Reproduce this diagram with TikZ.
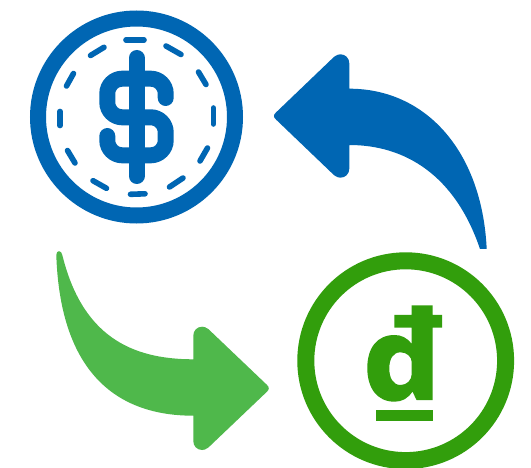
\documentclass[tikz,border=0pt]{standalone}
\definecolor{coinblue}{HTML}{0066B3}
\definecolor{coingreen}{HTML}{329E0C}
\definecolor{arrowgreen}{HTML}{4FB84B}
\tikzset{dashmark/.style={draw=coinblue,line width=5.6pt,line cap=round}}
\begin{document}
\begin{tikzpicture}[x=1pt,y=-1pt]
\useasboundingbox (0,0) rectangle (531,468);
\fill[white] (0,0) rectangle (531,468);
% blue coin
\draw[coinblue,line width=16pt] (136.5,117) circle[radius=98.5];
\foreach \a/\b/\c/\d in {126/40/144/40,
  166/46/181/54.5, 198.5/72/206/84.5, 213.3/108/213.3/124,
  207.5/148/200/161, 183/178/169.5/187, 145/193.8/130.5/194.3,
  106.5/188.3/93/180.7, 75/163/67.5/150.5, 60/125.5/60/111.5,
  66.5/86/73.5/73.5, 90.5/55.5/104/47.3}
  \draw[dashmark] (\a,\b) -- (\c,\d);
% dollar sign
\draw[coinblue,line width=16pt,line cap=round,rounded corners=15pt]
  (165.7,98) -- (165.7,78.7) -- (107.3,78.7) -- (107.3,117.3) -- (165.7,117.3)
  -- (165.7,155.3) -- (107.3,155.3) -- (107.3,136);
\draw[coinblue,line width=16pt,line cap=round] (136.7,58) -- (136.7,176);
% blue arrow
\fill[coinblue] (349.3,88.7) .. controls (425,88.7) and (482,150) .. (486.7,249)
  -- (480,249) .. controls (455,175) and (405,145) .. (349.3,145)
  -- (349.3,168.7) .. controls (349.3,173.7) and (345.5,177.7) .. (340.5,177.7)
  .. controls (338.5,177.7) and (337,177.2) .. (334.2,175.3)
  -- (276.1,119.65) .. controls (273.2,117.1) and (273.2,114.9) .. (276.1,112.35)
  -- (334.2,56.7) .. controls (337,54.8) and (338.5,54.3) .. (340.5,54.3)
  .. controls (345.5,54.3) and (349.3,58.3) .. (349.3,63.3) -- cycle;
% green arrow
\fill[arrowgreen] (193.3,359.3) .. controls (130,359.3) and (82,335) .. (62.3,255)
  .. controls (61.5,250) and (56.3,250) .. (56.3,255)
  .. controls (60,365) and (110,415.7) .. (193.3,415.7)
  -- (193.3,441) .. controls (193.3,446) and (197,450) .. (202.1,450)
  .. controls (204.1,450) and (205.6,449.4) .. (208.4,447.5)
  -- (266.7,391.95) .. controls (269.5,389.5) and (269.5,387.1) .. (266.7,384.65)
  -- (208.4,329.1) .. controls (205.6,327.2) and (204.1,326.7) .. (202.1,326.7)
  .. controls (197,326.7) and (193.3,330.7) .. (193.3,335.7) -- cycle;
% green coin
\draw[coingreen,line width=17pt] (405.7,360.7) circle[radius=99.9];
% dong sign
\fill[coingreen,even odd rule]
  (411.7,305.3) -- (432.7,305.3) -- (432.7,315) -- (442,315) -- (442,327.7) -- (432.7,327.7)
  -- (432.7,400) -- (416.5,400) -- (412.5,391.5)
  .. controls (408,398.5) and (402,401.7) .. (394.5,401.7)
  .. controls (377,401.7) and (367.3,388) .. (367.3,368)
  .. controls (367.3,348) and (377,335) .. (394.5,335)
  .. controls (401,335) and (407,337.5) .. (411.7,344)
  -- (411.7,327.7) -- (394.3,327.7) -- (394.3,315) -- (411.7,315) -- cycle
  (400.5,352.3) .. controls (393,352.3) and (389.3,359) .. (389.3,368.5)
  .. controls (389.3,378) and (393,385) .. (400.5,385)
  .. controls (407,385) and (411.7,380) .. (411.7,374) -- (411.7,362)
  .. controls (411.7,357) and (407,352.3) .. (400.5,352.3) -- cycle;
\fill[coingreen] (376.3,409.7) rectangle (433.3,421);
\end{tikzpicture}
\end{document}
